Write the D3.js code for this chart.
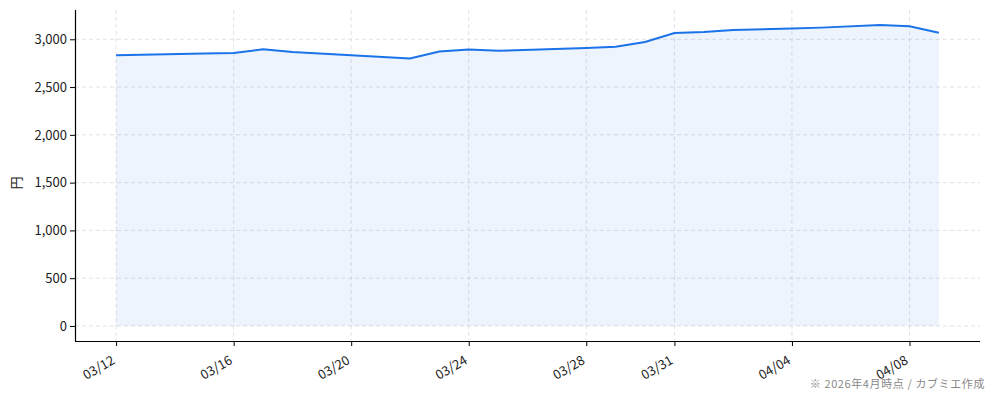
<!DOCTYPE html>
<html>
<head>
<meta charset="utf-8">
<script src="https://cdn.jsdelivr.net/npm/d3@7"></script>
<style>
  body { margin: 0; background: #fff; }
  svg { display: block; }
  text { font-family: "Noto Sans CJK JP", "DejaVu Sans", sans-serif; }
</style>
</head>
<body>
<svg width="994" height="401"></svg>
<script>
// price series (円)
const dates = [
    "2026-03-12", "2026-03-15", "2026-03-16", "2026-03-17", "2026-03-18",
    "2026-03-20", "2026-03-22", "2026-03-23", "2026-03-24", "2026-03-25",
    "2026-03-28", "2026-03-29", "2026-03-30", "2026-03-31", "2026-04-01",
    "2026-04-02", "2026-04-04", "2026-04-05", "2026-04-07", "2026-04-08",
    "2026-04-09"
];
const prices = [
    2833, 2852, 2857, 2895, 2866,
    2833, 2799, 2871, 2892, 2879,
    2910, 2922, 2972, 3066, 3076,
    3097, 3112, 3122, 3149, 3136,
    3068
];
const tickDates = ["2026-03-12", "2026-03-16", "2026-03-20", "2026-03-24",
    "2026-03-28", "2026-03-31", "2026-04-04", "2026-04-08"];
const yTicks = [0, 500, 1000, 1500, 2000, 2500, 3000];

const parse = d3.timeParse("%Y-%m-%d");
const data = dates.map((d, i) => ({ date: parse(d), value: prices[i] }));

const svg = d3.select("svg");
const mLeft = 75, mRight = 980, mTop = 10, mBottom = 341;

// 5% padding on both axes, like the original
const xExt = d3.extent(data, d => d.date);
const xPad = (xExt[1] - xExt[0]) * 0.05;
const x = d3.scaleTime()
    .domain([new Date(+xExt[0] - xPad), new Date(+xExt[1] + xPad)])
    .range([mLeft, mRight]);

const yMax = d3.max(prices);
const y = d3.scaleLinear()
    .domain([-yMax * 0.05, yMax * 1.05])
    .range([mBottom, mTop]);

// grid
svg.append("g")
    .selectAll("line")
    .data(yTicks)
    .enter().append("line")
    .attr("x1", mLeft).attr("x2", mRight)
    .attr("y1", d => y(d)).attr("y2", d => y(d))
    .attr("stroke", "#e2e2e6")
    .attr("stroke-dasharray", "4,3");

svg.append("g")
    .selectAll("line")
    .data(tickDates.map(parse))
    .enter().append("line")
    .attr("x1", d => x(d)).attr("x2", d => x(d))
    .attr("y1", mTop).attr("y2", mBottom)
    .attr("stroke", "#e2e2e6")
    .attr("stroke-dasharray", "4,3");

// area + line
const area = d3.area()
    .x(d => x(d.date))
    .y0(y(0))
    .y1(d => y(d.value));

svg.append("path")
    .datum(data)
    .attr("d", area)
    .attr("fill", "#1a73e8")
    .attr("fill-opacity", 0.08);

const line = d3.line()
    .x(d => x(d.date))
    .y(d => y(d.value));

svg.append("path")
    .datum(data)
    .attr("d", line)
    .attr("fill", "none")
    .attr("stroke", "#1a73e8")
    .attr("stroke-width", 2);

// axes
const xAxis = svg.append("g")
    .attr("transform", `translate(0,${mBottom})`)
    .call(d3.axisBottom(x)
        .tickValues(tickDates.map(parse))
        .tickFormat(d3.timeFormat("%m/%d"))
        .tickSize(5)
        .tickSizeOuter(0));

xAxis.select(".domain").attr("stroke", "#000").attr("stroke-width", 1.2)
    .attr("d", `M${mLeft},0.5H${mRight}`);
xAxis.selectAll(".tick line").attr("stroke", "#000");
xAxis.selectAll(".tick text")
    .attr("font-size", 13)
    .attr("fill", "#222")
    .attr("text-anchor", "end")
    .attr("dy", null)
    .attr("y", 0)
    .attr("transform", "translate(-1,22) rotate(-30)");

const yAxis = svg.append("g")
    .attr("transform", `translate(${mLeft},0)`)
    .call(d3.axisLeft(y)
        .tickValues(yTicks)
        .tickFormat(d3.format(","))
        .tickSize(5)
        .tickSizeOuter(0));

yAxis.select(".domain").attr("stroke", "#000").attr("stroke-width", 1.2)
    .attr("d", `M0.5,${mTop}V${mBottom}`);
yAxis.selectAll(".tick line").attr("stroke", "#000");
yAxis.selectAll(".tick text")
    .attr("font-size", 13)
    .attr("fill", "#222")
    .attr("x", -8);

// y label
svg.append("text")
    .attr("transform", "translate(21,183) rotate(-90)")
    .attr("text-anchor", "middle")
    .attr("font-size", 13)
    .attr("fill", "#222")
    .text("円");

// footnote
svg.append("text")
    .attr("x", 985)
    .attr("y", 388)
    .attr("text-anchor", "end")
    .attr("font-size", 11)
    .attr("letter-spacing", 0.6)
    .attr("fill", "#888")
    .text("※ 2026年4月時点 / カブミエ作成");
</script>
</body>
</html>
